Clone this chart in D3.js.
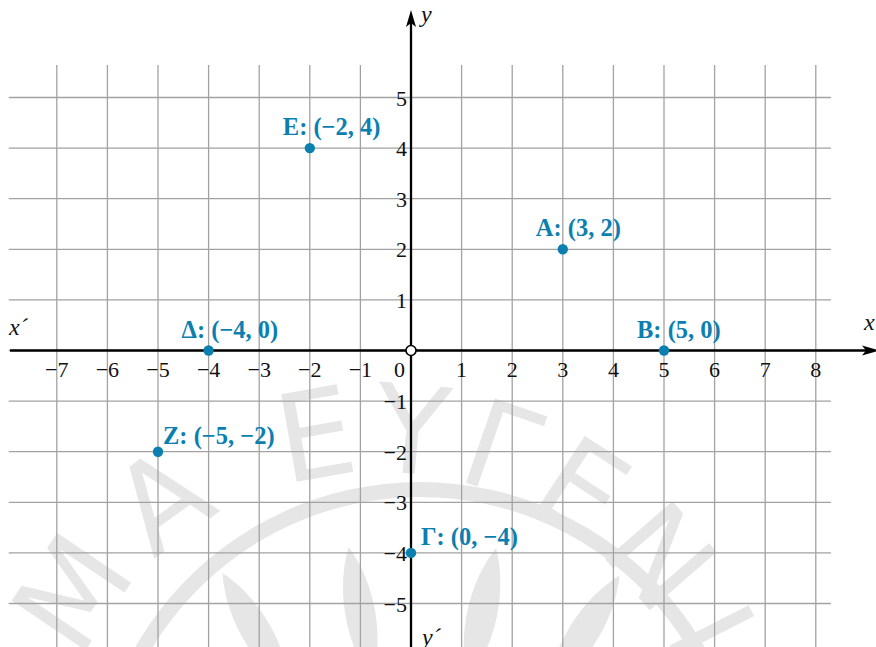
<!DOCTYPE html>
<html>
<head>
<meta charset="utf-8">
<script src="https://cdn.jsdelivr.net/npm/d3@7/dist/d3.min.js"></script>
<style>
  html, body { margin: 0; padding: 0; background: #fff; }
  svg { display: block; }
  .serif { font-family: "Liberation Serif", "DejaVu Serif", serif; }
</style>
</head>
<body>
<svg id="chart" width="876" height="647"></svg>
<script>
// Points on the Cartesian plane
const pointNames = ["Α", "Β", "Γ", "Δ", "Ε", "Ζ"];
const pointX = [3, 5, 0, -4, -2, -5];
const pointY = [2, 0, -4, 0, 4, -2];

// Grid lines and tick labels
const gridXValues = [-7, -6, -5, -4, -3, -2, -1, 0, 1, 2, 3, 4, 5, 6, 7, 8];
const gridYValues = [-5, -4, -3, -2, -1, 0, 1, 2, 3, 4, 5];
const xTickValues = [-7, -6, -5, -4, -3, -2, -1, 1, 2, 3, 4, 5, 6, 7, 8];
const yTickValues = [-5, -4, -3, -2, -1, 1, 2, 3, 4, 5];

const W = 876, H = 647;
const svg = d3.select("#chart");

const x = d3.scaleLinear().domain([-7, 8]).range([56.8, 815.8]);
const y = d3.scaleLinear().domain([-5, 5]).range([603.5, 97.5]);

const fmt = v => String(v).replace("-", "\u2212");
const blue = "#0b80b0";
const wmColor = "#e6e6e6";

// Faint circular emblem in the background
const wm = svg.append("g").attr("fill", wmColor);
const wmCx = 380, wmCy = 800, wmR = 372;
const wmLetters = ["Μ", "Α", "Ε", "Υ", "Γ", "Ε", "Ν", "Ι"];
const wmAngles = [-56, -36, -10, 5, 19, 33, 49, 63];
wmLetters.forEach((ch, i) => {
  wm.append("text")
    .attr("transform", `rotate(${wmAngles[i]}, ${wmCx}, ${wmCy}) translate(${wmCx}, ${wmCy - wmR + 44})`)
    .attr("text-anchor", "middle")
    .attr("font-family", "'DejaVu Sans', sans-serif")
    .attr("font-size", 122)
    .text(ch);
});
wm.append("path")
  .attr("d", d3.arc()({ innerRadius: 313, outerRadius: 328, startAngle: -Math.PI * 0.55, endAngle: Math.PI * 0.55 }))
  .attr("transform", "translate(420, 810)");
// leaves of the emblem
const leaf = "M0,0 C20,-40 20,-95 0,-135 C-20,-95 -20,-40 0,0 Z";
[[290, 690, -30], [372, 680, -10], [468, 680, 12], [548, 690, 32]].forEach(([lx, ly, rot]) => {
  wm.append("path").attr("d", leaf)
    .attr("transform", `translate(${lx},${ly}) rotate(${rot})`);
});

// Grid
const grid = svg.append("g").attr("stroke", "#a2a2a2").attr("stroke-width", 1.3);
grid.selectAll("line.v").data(gridXValues).join("line")
  .attr("x1", d => x(d)).attr("x2", d => x(d))
  .attr("y1", y(5.64)).attr("y2", H);
grid.selectAll("line.h").data(gridYValues).join("line")
  .attr("y1", d => y(d)).attr("y2", d => y(d))
  .attr("x1", x(-7.95)).attr("x2", x(8.3));

// Axes with arrowheads
const axes = svg.append("g");
axes.append("line").attr("x1", 10).attr("x2", 870)
  .attr("y1", y(0)).attr("y2", y(0)).attr("stroke", "#000").attr("stroke-width", 2.3);
axes.append("line").attr("x1", x(0)).attr("x2", x(0))
  .attr("y1", H).attr("y2", 16).attr("stroke", "#000").attr("stroke-width", 2.3);
const arrow = (tx, ty, dir) => {
  const p = dir === "up"
    ? [[tx, ty], [tx + 5, ty + 17], [tx, ty + 13], [tx - 5, ty + 17]]
    : [[tx, ty], [tx - 17, ty - 5], [tx - 13, ty], [tx - 17, ty + 5]];
  axes.append("path").attr("d", "M" + p.map(q => q.join(",")).join("L") + "Z").attr("fill", "#000");
};
arrow(x(0), 10, "up");
arrow(879, y(0), "right");

// Tick labels
const ticks = svg.append("g").attr("class", "serif").attr("font-size", 22).attr("fill", "#111");
ticks.selectAll("text.x").data(xTickValues).join("text")
  .attr("x", d => x(d)).attr("y", y(0) + 26)
  .attr("text-anchor", "middle").text(fmt);
ticks.selectAll("text.y").data(yTickValues).join("text")
  .attr("x", x(0) - 4).attr("y", d => y(d) + 8)
  .attr("text-anchor", "end").text(fmt);
ticks.append("text").attr("x", x(0) - 6).attr("y", y(0) + 26)
  .attr("text-anchor", "end").text("0");

// Axis names
const names = svg.append("g").attr("class", "serif").attr("font-size", 24).attr("font-style", "italic").attr("fill", "#111");
names.append("text").attr("x", 864).attr("y", y(0) - 21).text("x");
names.append("text").attr("x", 9).attr("y", y(0) - 16).text("x\u00B4");
names.append("text").attr("x", x(0) + 10).attr("y", 22).text("y");
names.append("text").attr("x", x(0) + 11).attr("y", 645).text("y\u00B4");

// Origin
svg.append("circle").attr("cx", x(0)).attr("cy", y(0)).attr("r", 5)
  .attr("fill", "#fff").attr("stroke", "#000").attr("stroke-width", 1.6);

// Points and their labels
const rightSide = new Set(["Γ", "Ζ"]);
const pts = pointNames.map((n, i) => ({ name: n, px: pointX[i], py: pointY[i] }));
svg.append("g").selectAll("circle").data(pts).join("circle")
  .attr("cx", d => x(d.px)).attr("cy", d => y(d.py)).attr("r", 5.2).attr("fill", blue);
svg.append("g").attr("class", "serif").attr("font-size", 24.5).attr("font-weight", "bold").attr("fill", blue)
  .selectAll("text").data(pts).join("text")
  .attr("x", d => x(d.px) + (rightSide.has(d.name) ? (d.px === 0 ? 10 : 5) : -27))
  .attr("y", d => y(d.py) + (rightSide.has(d.name) ? -8 : -13))
  .text(d => `${d.name}: (${fmt(d.px)}, ${fmt(d.py)})`);
</script>
</body>
</html>
